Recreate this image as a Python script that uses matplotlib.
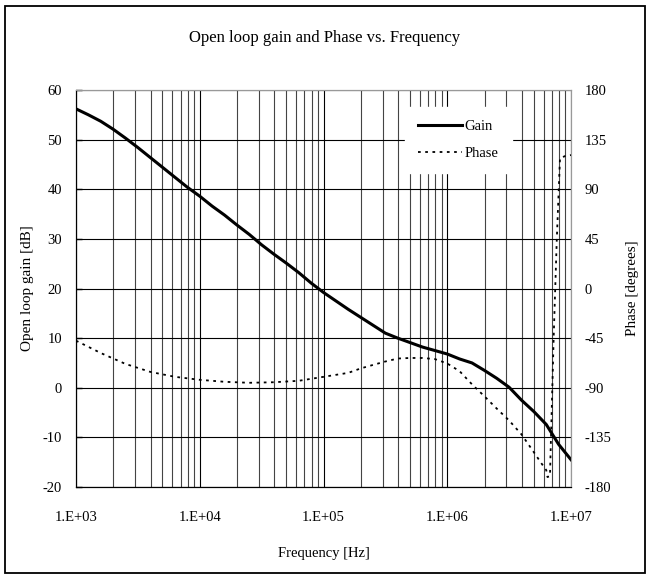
import matplotlib
matplotlib.use("Agg")
import matplotlib.pyplot as plt
from matplotlib.patches import Rectangle
from matplotlib.ticker import LogLocator, FixedLocator, NullFormatter
import numpy as np

# data (log10 of frequency in Hz)
gain_logf = [3.0, 3.1, 3.2, 3.3, 3.4, 3.5, 3.6, 3.7, 3.8, 3.9,
             4.0, 4.1, 4.2, 4.3, 4.4, 4.5, 4.6, 4.7, 4.8, 4.9,
             5.0, 5.1, 5.2, 5.3, 5.4, 5.5, 5.6, 5.7, 5.8, 5.9,
             6.0, 6.1, 6.2, 6.3, 6.4, 6.5, 6.6, 6.7, 6.8, 6.9, 7.0]
gain_db = [56.2, 55.0, 53.7, 52.1, 50.3, 48.4, 46.4, 44.4, 42.4, 40.4,
           38.6, 36.6, 34.8, 32.8, 30.9, 28.8, 26.9, 25.1, 23.2, 21.1,
           19.2, 17.5, 15.8, 14.2, 12.6, 11.0, 10.0, 9.1, 8.2, 7.5,
           6.8, 5.8, 5.0, 3.5, 1.9, 0.1, -2.5, -4.8, -7.4, -11.4, -14.5]

phase_logf = [3.0, 3.2, 3.4, 3.6, 3.8, 4.0, 4.2, 4.4, 4.6, 4.8,
              5.0, 5.2, 5.3, 5.4, 5.5, 5.6, 5.7, 5.8, 5.9, 6.0,
              6.1, 6.2, 6.3, 6.4, 6.5, 6.6, 6.7, 6.76, 6.8, 6.81,
              6.83, 6.86, 6.885, 6.911, 6.95, 7.0]
phase_deg = [-47.3, -58.5, -68.4, -75.6, -80.1, -82.8, -84.6, -85.5, -85.0, -83.7,
             -80.1, -76.5, -72.5, -69.3, -66.2, -63.5, -63.0, -63.0, -64.0, -68.0,
             -75.0, -86.9, -97.7, -108.9, -119.7, -132.3, -148.5, -158.4, -164.7, -171.0,
             -170.0, -44.0, 44.0, 118.0, 120.0, 121.0]

gain_f = [10 ** v for v in gain_logf]
phase_f = [10 ** v for v in phase_logf]

gain_ticks = [60, 50, 40, 30, 20, 10, 0, -10, -20]
phase_ticks = [180, 135, 90, 45, 0, -45, -90, -135, -180]
freq_ticks = [1e3, 1e4, 1e5, 1e6, 1e7]
freq_labels = ["1.E+03", "1.E+04", "1.E+05", "1.E+06", "1.E+07"]

plt.rcParams['font.family'] = ['Liberation Serif', 'DejaVu Serif']
FS = 10.5

fig = plt.figure(figsize=(6.5, 5.79), dpi=100)
ax = fig.add_axes([76 / 650, 92 / 579, 495 / 650, 397 / 579])
ax2 = ax.twinx()

ax.set_xscale('log')
ax.set_xlim(1e3, 1e7)
ax.set_ylim(-20, 60)
ax2.set_ylim(-180, 180)

ax.xaxis.set_major_locator(FixedLocator(freq_ticks))
ax.set_xticklabels(freq_labels, fontsize=FS)
ax.xaxis.set_minor_locator(LogLocator(base=10, subs=np.arange(2, 10)))
ax.xaxis.set_minor_formatter(NullFormatter())
ax.set_yticks(gain_ticks)
ax.set_yticklabels([str(v) for v in gain_ticks], fontsize=FS)
ax2.set_yticks(phase_ticks)
ax2.set_yticklabels([str(v) for v in phase_ticks], fontsize=FS)

ax.grid(True, which='major', axis='both', color='black', lw=0.8)
ax.grid(True, which='minor', axis='x', color='#444444', lw=0.8)
ax.set_axisbelow(True)

ax.tick_params(axis='x', which='both', length=0, pad=17)
ax.tick_params(axis='y', direction='in', length=4, width=1, pad=10)
ax2.tick_params(axis='y', length=0, pad=10)

for a in (ax, ax2):
    a.spines['top'].set_color('#999999')
    a.spines['right'].set_color('#999999')
    a.spines['left'].set_color('black')
    a.spines['bottom'].set_color('black')

l1, = ax.plot(gain_f, gain_db, color='black', lw=2.2, label='Gain', zorder=3)
l2, = ax2.plot(phase_f, phase_deg, color='black', lw=1.3, ls=(0, (1.5, 2.5)), label='Phase')

ax.set_xlabel('Frequency [Hz]', fontsize=FS, labelpad=17)
ax.set_ylabel('Open loop gain [dB]', fontsize=11, labelpad=6)
ax2.set_ylabel('Phase [degrees]', fontsize=11, labelpad=10)
fig.text(0.5, 1 - 38 / 579, 'Open loop gain and Phase vs. Frequency', fontsize=12,
         ha='center', va='center')

leg = ax2.legend([l1, l2], ['Gain', 'Phase'], loc='upper left',
                 bbox_to_anchor=(405 / 650, 1 - 107 / 579), bbox_transform=fig.transFigure,
                 fontsize=FS, frameon=True, fancybox=False, handlelength=3.0,
                 handletextpad=0.2, borderpad=0.9, labelspacing=0.9, borderaxespad=0)
leg.get_frame().set_facecolor('white')
leg.get_frame().set_edgecolor('white')
leg.get_frame().set_alpha(1)

fig.patches.append(Rectangle((5 / 650, 6 / 579), 640 / 650, 567 / 579,
                             transform=fig.transFigure, fill=False, lw=1.3,
                             edgecolor='black'))

fig.savefig('out.png', dpi=100)
